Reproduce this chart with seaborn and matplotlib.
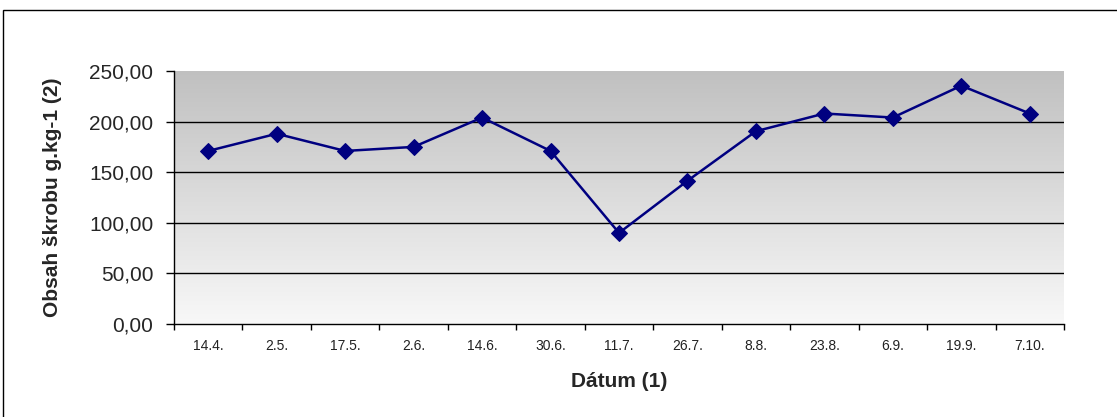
import numpy as np
import pandas as pd
import matplotlib
matplotlib.use("Agg")
import matplotlib.pyplot as plt
from matplotlib.patches import Rectangle
import seaborn as sns

# Sampling dates and starch content (g/kg)
dates = ["14.4.", "2.5.", "17.5.", "2.6.", "14.6.", "30.6.", "11.7.",
         "26.7.", "8.8.", "23.8.", "6.9.", "19.9.", "7.10."]
starch = [171, 188, 171, 175, 204, 171, 90, 141.5, 190.5, 208, 204, 235.5, 208]
y_ticks = [0, 50, 100, 150, 200, 250]
y_tick_labels = ["0,00", "50,00", "100,00", "150,00", "200,00", "250,00"]

df = pd.DataFrame({"datum": dates, "obsah": starch})

sns.set_theme(style="white")
plt.rcParams["font.family"] = ["Liberation Sans", "DejaVu Sans"]

W, H = 1117, 417
fig = plt.figure(figsize=(W / 100, H / 100), dpi=100)
fig.patch.set_facecolor("white")

# outer chart frame
fig.patches.append(Rectangle((3 / W, -0.05), 1.2, 1 - 10 / H + 0.05,
                             transform=fig.transFigure, fill=False,
                             edgecolor="black", linewidth=1.0))

ax = fig.add_axes([174 / W, 1 - 324 / H, (1064 - 174) / W, (324 - 71) / H])
n = len(dates)

# vertical gray gradient in the plot area (darker at the top)
grad = np.linspace(0, 1, 256).reshape(-1, 1)
cmap = matplotlib.colors.LinearSegmentedColormap.from_list(
    "bg", ["#c0c0c0", "#f8f8f8"])
ax.imshow(grad, cmap=cmap, aspect="auto", origin="upper",
          extent=(-0.5, n - 0.5, 0, 250), zorder=0)

for yv in [50, 100, 150, 200]:
    ax.axhline(yv, color="black", linewidth=1.0, zorder=1)

sns.lineplot(data=df, x="datum", y="obsah", ax=ax, color="#000080",
             linewidth=1.8, marker="D", markersize=8,
             markeredgecolor="#000080", zorder=3)
ax.set_xlim(-0.5, n - 0.5)
ax.set_ylim(0, 250)

ax.set_yticks(y_ticks)
ax.set_yticklabels(y_tick_labels)
ax.tick_params(axis="y", which="major", left=True, length=6, width=1,
               color="black", labelsize=15, pad=9, direction="out")

ax.set_xticks(range(n))
ax.set_xticklabels(dates)
ax.set_xticks(np.arange(-0.5, n, 1.0), minor=True)
ax.tick_params(axis="x", which="major", length=0, labelsize=10, pad=11,
               labelcolor="#222222")
ax.tick_params(axis="x", which="minor", bottom=True, length=4, width=1,
               color="black", direction="out")

for side in ["top", "right"]:
    ax.spines[side].set_visible(False)
for side in ["left", "bottom"]:
    ax.spines[side].set_visible(True)
    ax.spines[side].set_color("black")
    ax.spines[side].set_linewidth(1.0)

ax.set_xlabel("Dátum (1)", fontsize=15, fontweight="bold")
ax.set_ylabel("Obsah škrobu g.kg-1 (2)", fontsize=15, fontweight="bold")
ax.xaxis.set_label_coords(0.5, -48 / 253, transform=ax.transAxes)
ax.yaxis.set_label_coords(-112 / 890, 0.5, transform=ax.transAxes)

fig.savefig("out.png", dpi=100)
